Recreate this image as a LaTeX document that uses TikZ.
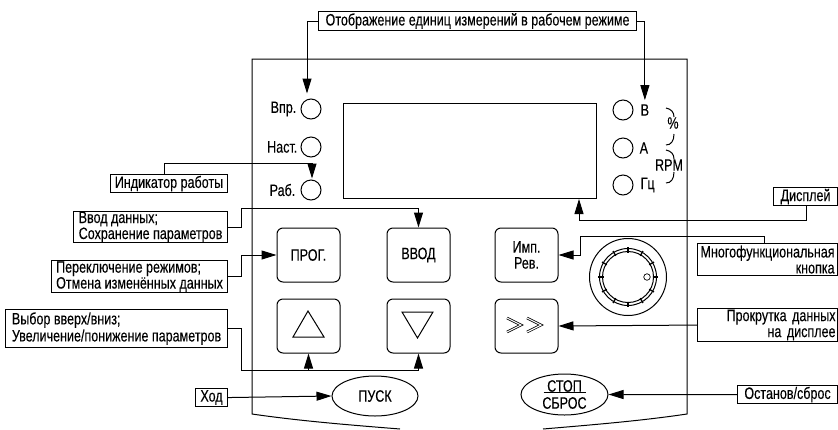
\documentclass[tikz,border=0pt]{standalone}
\usepackage{fontspec}
\setmainfont[FakeStretch=0.76,FakeBold=0.15]{Liberation Sans}
\usepackage{tikz}
\usetikzlibrary{positioning,shapes.geometric,arrows.meta}
\tikzstyle{arrow} = [line width=1pt, ->, >={Triangle[length=15pt,width=9pt]}]

\begin{document}
\begin{tikzpicture}[
    x=1pt, y=-1pt,
    font=\fontsize{16.5}{15}\selectfont,
    every node/.style={inner sep=0pt},
    legend/.style={
        rectangle,
        draw=black,
        line width=1.1pt,
        fill=white,
        anchor=north west,
        align=left
    },
    key/.style={
        rectangle,
        draw=black,
        line width=1pt,
        rounded corners=6pt,
        minimum width=63pt,
        minimum height=54pt,
        align=center
    },
    oval/.style={
        ellipse,
        draw=black,
        line width=1pt,
        minimum width=86pt,
        minimum height=40pt,
        align=center
    },
    lamp/.style={
        circle,
        draw=black,
        line width=1pt,
        minimum size=20pt
    },
    thin line/.style={line width=1pt}
    ]
    \useasboundingbox (0,0) rectangle (838,429);

    % Panel
    \draw[thin line] (400,429) .. controls (350,425) and (300,421) .. (252,414)
        -- (252,59) -- (687,59) -- (687,414)
        .. controls (640,421) and (590,425) .. (543,429);

    % Display
    \node[draw=black, thin line, minimum width=253pt, minimum height=95pt, anchor=north west] (display) at (343,103) {};

    % Lamps on the left
    \node[lamp] (lampv) at (311,109) {};
    \node[lamp] (lampn) at (311,147) {};
    \node[lamp] (lampr) at (311,190) {};
    \node[left=4pt of lampv] (textv) {Впр.};
    \node[left=3pt of lampn] (textn) {Наст.};
    \node[left=5pt of lampr] (textr) {Раб.};

    % Lamps on the right
    \node[lamp] (lampb) at (623,110) {};
    \node[lamp] (lampa) at (623,148) {};
    \node[lamp] (lampg) at (623,185) {};
    \node[right=7pt of lampb] (textb) {В};
    \node[right=6pt of lampa] (texta) {А};
    \node[right=7pt of lampg] (textg) {Гц};

    % Units
    \node (percent) at (673,123) {\%};
    \node (rpm) at (669,165) {RPM};
    \draw[thin line] (666,108) .. controls (671,109) and (674,112) .. (674,117);
    \draw[thin line] (674,134) .. controls (674,141) and (671,145) .. (666,145);
    \draw[thin line] (666,150) .. controls (671,151) and (674,154) .. (674,159);
    \draw[thin line] (674,172) .. controls (674,179) and (671,183) .. (666,183);

    % Keys
    \node[key] (prog) at (308.5,255) {ПРОГ.};
    \node[key, right=46pt of prog] (vvod) {ВВОД};
    \node[key, right=44pt of vvod, font=\fontsize{16.5}{16}\selectfont] (imp) {Имп.\\Рев.};
    \node[key, below=16pt of prog] (up) {};
    \node[key, below=16pt of vvod] (down) {};
    \node[key, below=16pt of imp] (scroll) {};

    % Triangles and chevrons on the keys
    \draw[thin line] (308,311) -- (293,337) -- (324,337) -- cycle;
    \draw[thin line] (402,312) -- (433,312) -- (417.5,338) -- cycle;
    \foreach \dx in {0,20} {
        \draw[line width=0.7pt, double, double distance=1.1pt] (507+\dx,318) -- (521+\dx,325) -- (507+\dx,332);
    }

    % Knob
    \node[circle, draw=black, thin line, minimum size=77pt] (knob) at (628,277) {};
    \node[circle, draw=black, thin line, minimum size=57pt] (knobmid) at (knob) {};
    \node[circle, draw=black, thin line, minimum size=51pt] (knobin) at (knob) {};
    \node[circle, draw=black, line width=0.7pt, minimum size=6.5pt] (knobdot) at (647,277) {};
    \foreach \a in {0,30,...,330} {
        \draw[line width=1.3pt] ([shift={(\a:24.5pt)}]knob.center) -- ([shift={(\a:30pt)}]knob.center);
    }

    % Ovals
    \node[oval] (start) at (375,396) {ПУСК};
    \node[oval, minimum width=87pt, minimum height=41pt, font=\fontsize{16.5}{17}\selectfont] (stop) at (564.5,394.5) {СТОП\\СБРОС};
    \draw[thin line] ([shift={(-21pt,2.5pt)}]stop.center) -- ([shift={(21pt,2.5pt)}]stop.center);

    % Legends
    \node[legend, minimum width=318pt, minimum height=19pt, align=center] (units) at (318,11) {Отображение единиц измерений в рабочем режиме};
    \node[legend, minimum width=117pt, minimum height=18pt, align=center] (run) at (110,174) {Индикатор работы};
    \node[legend, minimum width=154pt, minimum height=31pt, align=left, font=\fontsize{16.5}{16}\selectfont] (enter) at (73,211) {Ввод данных;\\Сохранение параметров};
    \node[legend, minimum width=176pt, minimum height=32pt, align=left, font=\fontsize{16.5}{13.5}\selectfont] (mode) at (51,260) {Переключение режимов;\\Отмена изменённых данных};
    \node[legend, minimum width=222pt, minimum height=38pt, align=left, font=\fontsize{16.5}{17}\selectfont] (select) at (5,309) {Выбор вверх/вниз;\\Увеличение/понижение параметров};
    \node[legend, minimum width=32pt, minimum height=18pt, align=center] (go) at (195,388) {Ход};
    \node[legend, minimum width=64pt, minimum height=18pt, align=center] (screen) at (773,187) {Дисплей};
    \node[legend, minimum width=140pt, minimum height=32pt, align=right, font=\fontsize{16.5}{16}\selectfont] (multi) at (697,243) {Многофункциональная\\кнопка};
    \node[legend, minimum width=140pt, minimum height=33pt, text width=136pt, align=right, font=\fontsize{16.5}{16}\selectfont] (rolling) at (697,308) {Прокрутка данных\hspace*{5pt}\\на дисплее};
    \node[legend, minimum width=100pt, minimum height=18pt, align=center] (reset) at (737,385) {Останов/сброс};

    % Connectors
    \draw[arrow] (units.west) -| ([shift={(-4pt,5pt)}]lampv.north);
    \draw[arrow] (units.east) -| ([yshift=4pt]textb.north);
    \draw[arrow] ([xshift=-5pt]run.north) -- ++(0,-11) -| ([shift={(1pt,1pt)}]lampr.north);
    \draw[arrow] (enter.east) -- ++(13,0) |- ([yshift=19pt]vvod.north) -- (vvod.north);
    \draw[arrow] (mode.east) -- ++(13,0) |- (prog.west);
    \draw[thin line] (select.east) -- ++(13,0) |- ([yshift=-17pt]down.south);
    \draw[arrow] ([yshift=-17pt]up.south) -- (up.south);
    \draw[arrow] ([yshift=-17pt]down.south) -- (down.south);
    \draw[arrow] (go.east) -- (start.west);
    \draw[arrow] (reset.west) -- (stop.east);
    \draw[arrow] (rolling.west) -- (scroll.east);
    \draw[arrow] ([xshift=-3pt]multi.north) -- ++(0,-7) -| ([xshift=22pt]imp.east) -- (imp.east);
    \draw[arrow] ([xshift=1pt]screen.south) -- ++(0,14) -| ([xshift=-18pt]display.south east);
\end{tikzpicture}
\end{document}
